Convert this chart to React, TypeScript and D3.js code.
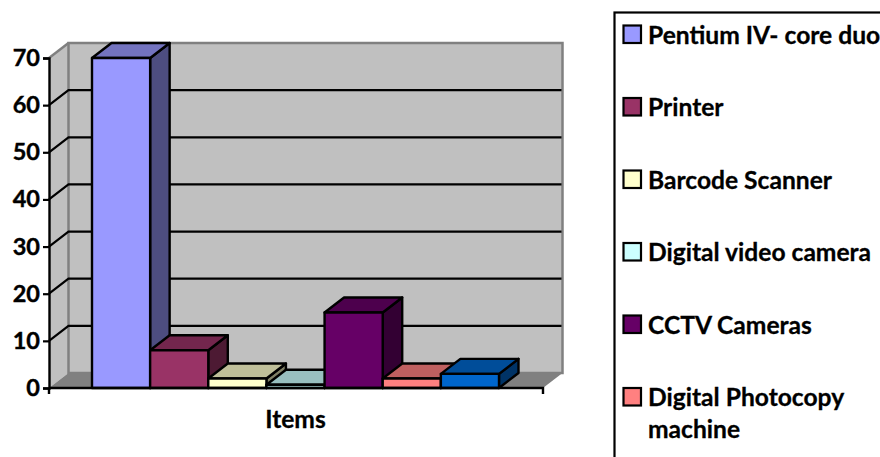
import React, { useRef, useEffect } from 'react';
import * as d3 from 'd3';

const categories = [
  'Pentium IV- core duo',
  'Printer',
  'Barcode Scanner',
  'Digital video camera',
  'CCTV Cameras',
  'Digital Photocopy machine',
  'Other',
];
const values = [70, 8, 2, 0.7, 16, 2, 3];
const colors = ['#9999ff', '#993366', '#ffffcc', '#ccffff', '#660066', '#ff8080', '#0066cc'];
const legendLabels = [
  ['Pentium IV- core duo'],
  ['Printer'],
  ['Barcode Scanner'],
  ['Digital video camera'],
  ['CCTV Cameras'],
  ['Digital Photocopy', 'machine'],
];
const yTicks = [0, 10, 20, 30, 40, 50, 60, 70];
const axisTitle = 'Items';

const FONT = 'Lato, "Open Sans", sans-serif';
const DX = 19.5;
const DY = 15;

const App: React.FC = () => {
  const ref = useRef<SVGSVGElement | null>(null);

  useEffect(() => {
    if (!ref.current) return;
    const svg = d3.select(ref.current);
    svg.selectAll('*').remove();

    const plot = { left: 49, right: 543, top: 58, bottom: 388 };
    const y = d3.scaleLinear().domain([0, 70]).range([plot.bottom, plot.top]);
    const x = d3
      .scaleBand<string>()
      .domain(categories)
      .range([92, 499]);
    const line = d3.line();

    // Walls and floor
    svg
      .append('path')
      .attr('d', line([
        [plot.left, plot.top],
        [plot.left + DX, plot.top - DY],
        [plot.left + DX, plot.bottom - DY],
        [plot.left, plot.bottom],
      ])! + 'Z')
      .attr('fill', '#c0c0c0');
    svg
      .append('rect')
      .attr('x', plot.left + DX)
      .attr('y', plot.top - DY)
      .attr('width', plot.right - plot.left)
      .attr('height', plot.bottom - plot.top)
      .attr('fill', '#c0c0c0')
      .attr('stroke', '#808080')
      .attr('stroke-width', 2.5);
    svg
      .append('path')
      .attr('d', line([
        [plot.left, plot.bottom],
        [plot.left + DX, plot.bottom - DY],
        [plot.right + DX, plot.bottom - DY],
        [plot.right, plot.bottom],
      ])! + 'Z')
      .attr('fill', '#808080');
    svg
      .append('path')
      .attr('d', line([
        [plot.left, plot.top],
        [plot.left + DX, plot.top - DY],
      ])!)
      .attr('stroke', '#808080')
      .attr('stroke-width', 2.5);

    // Gridlines
    yTicks.slice(1, -1).forEach((t) => {
      svg
        .append('path')
        .attr('d', line([
          [plot.left, y(t)],
          [plot.left + DX, y(t) - DY],
          [plot.right + DX - 1, y(t) - DY],
        ])!)
        .attr('fill', 'none')
        .attr('stroke', '#000')
        .attr('stroke-width', 2.2);
    });

    // Bars, left to right so the nearer faces overlap
    categories.forEach((c, i) => {
      const x0 = x(c)!;
      const x1 = x0 + x.bandwidth();
      const yTop = y(values[i]);
      const base = d3.color(colors[i])!;
      const shade = (k: number) => {
        const rgb = d3.rgb(base);
        return d3.rgb(rgb.r * k, rgb.g * k, rgb.b * k).formatHex();
      };
      const g = svg
        .append('g')
        .attr('stroke', '#000')
        .attr('stroke-width', 2.4)
        .attr('stroke-linejoin', 'round');
      g.append('path')
        .attr('d', line([
          [x1, yTop],
          [x1 + DX, yTop - DY],
          [x1 + DX, plot.bottom - DY],
          [x1, plot.bottom],
        ])! + 'Z')
        .attr('fill', shade(0.5));
      g.append('path')
        .attr('d', line([
          [x0, yTop],
          [x0 + DX, yTop - DY],
          [x1 + DX, yTop - DY],
          [x1, yTop],
        ])! + 'Z')
        .attr('fill', shade(0.75));
      g.append('rect')
        .attr('x', x0)
        .attr('y', yTop)
        .attr('width', x.bandwidth())
        .attr('height', plot.bottom - yTop)
        .attr('fill', colors[i]);
    });

    // Axes
    const yAxis = svg
      .append('g')
      .attr('transform', `translate(${plot.left},0)`)
      .call(d3.axisLeft(y).tickValues(yTicks).tickSize(6).tickPadding(3));
    yAxis.select('.domain').attr('stroke', '#000').attr('stroke-width', 2.4);
    yAxis.selectAll('.tick line').attr('stroke', '#000').attr('stroke-width', 2.2);
    yAxis
      .selectAll('.tick text')
      .attr('fill', '#000')
      .attr('stroke', '#000')
      .attr('stroke-width', 0.4)
      .attr('font-family', FONT)
      .attr('font-weight', 700)
      .attr('font-size', 23.5);

    svg
      .append('path')
      .attr('d', `M${plot.left},${plot.bottom}H${plot.right}V${plot.bottom + 6}M${plot.left},${plot.bottom}V${plot.bottom + 6}`)
      .attr('fill', 'none')
      .attr('stroke', '#000')
      .attr('stroke-width', 2.4);

    svg
      .append('text')
      .attr('x', 295.5)
      .attr('y', 427.5)
      .attr('text-anchor', 'middle')
      .attr('font-family', FONT)
      .attr('font-weight', 700)
      .attr('font-size', 24.6)
      .attr('stroke', '#000')
      .attr('stroke-width', 0.3)
      .text(axisTitle);

    // Legend, cut off by the picture edge
    svg
      .append('rect')
      .attr('x', 614.5)
      .attr('y', 12.5)
      .attr('width', 300)
      .attr('height', 480)
      .attr('fill', '#fff')
      .attr('stroke', '#000')
      .attr('stroke-width', 2.2);

    const legendY = d3
      .scaleLinear()
      .domain([0, 5])
      .range([34.5, 397]);
    legendLabels.forEach((lines, i) => {
      const cy = legendY(i);
      svg
        .append('rect')
        .attr('x', 623.5)
        .attr('y', cy - 9)
        .attr('width', 17.5)
        .attr('height', 17.5)
        .attr('fill', colors[i])
        .attr('stroke', '#000')
        .attr('stroke-width', 2.2);
      lines.forEach((l, j) => {
        svg
          .append('text')
          .attr('x', 648)
          .attr('y', cy + 9 + j * 32)
          .attr('font-family', FONT)
          .attr('font-weight', 700)
          .attr('font-size', 24.6)
          .attr('fill', '#000')
          .attr('stroke', '#000')
          .attr('stroke-width', 0.3)
          .text(l);
      });
    });
  }, []);

  return (
    <svg
      ref={ref}
      width={880}
      height={457}
      style={{ position: 'fixed', left: 0, top: 0, background: '#fff' }}
    />
  );
};

export default App;
